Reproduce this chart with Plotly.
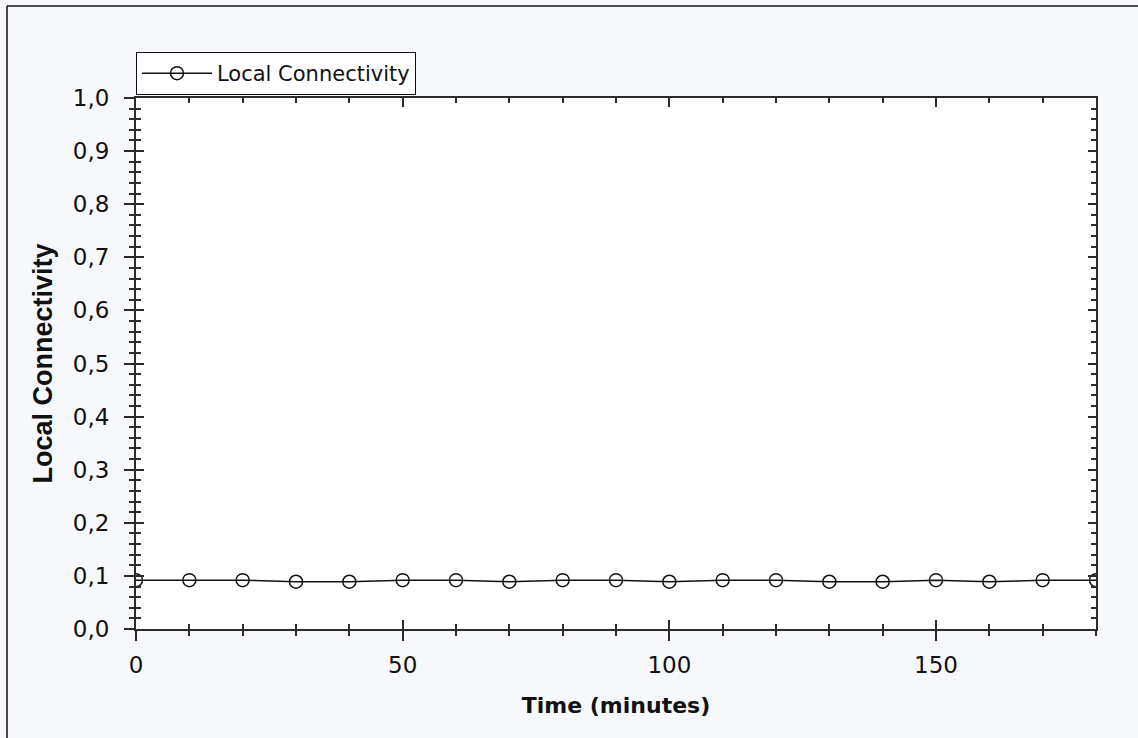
import plotly.graph_objects as go

# Local connectivity sampled every 10 minutes
time_min = [0, 10, 20, 30, 40, 50, 60, 70, 80, 90, 100, 110, 120, 130, 140, 150, 160, 170, 180]
local_conn = [0.092, 0.092, 0.092, 0.089, 0.089, 0.092, 0.092, 0.089, 0.092, 0.092,
              0.089, 0.092, 0.092, 0.089, 0.089, 0.092, 0.089, 0.092, 0.092]

x_range = [0, 180]
y_range = [0, 1.0]
x_ticks = [0, 50, 100, 150]
y_ticks = [0.0, 0.1, 0.2, 0.3, 0.4, 0.5, 0.6, 0.7, 0.8, 0.9, 1.0]

W, H = 1138, 738
L, R, T, B = 136, 42, 98, 109

AXIS_COLOR = "#2b2b2b"
TICK_FONT = dict(family="DejaVu Sans", size=23, color="#111")

fig = go.Figure()
fig.add_trace(go.Scatter(
    x=time_min, y=local_conn, mode="lines+markers", name="Local Connectivity",
    line=dict(color="#111", width=1.5),
    marker=dict(symbol="circle-open", size=13, color="#111", line=dict(width=1.5)),
    xaxis="x", yaxis="y",
))

pw, ph = W - L - R, H - T - B

fig.update_layout(
    width=W, height=H,
    margin=dict(l=L, r=R, t=T, b=B, pad=0),
    paper_bgcolor="#f7f8fc",
    plot_bgcolor="#ffffff",
    separators=", ",
    showlegend=True,
    legend=dict(
        x=0, xanchor="left", y=(H - B - 52) / ph, yanchor="top",
        bgcolor="#ffffff", bordercolor="#111", borderwidth=1,
        font=dict(family="DejaVu Sans", size=21, color="#111"),
        itemwidth=70, tracegroupgap=0,
    ),
    # Main axes: outward-pointing ticks, labels and titles
    xaxis=dict(
        range=x_range, tickvals=x_ticks, ticktext=[str(v) for v in x_ticks],
        ticks="outside", ticklen=10, tickwidth=1.5, tickcolor=AXIS_COLOR,
        minor=dict(dtick=10, tick0=0, ticks="outside", ticklen=5, tickwidth=1.5, tickcolor=AXIS_COLOR),
        showline=True, linecolor=AXIS_COLOR, linewidth=2, mirror=False,
        showgrid=False, zeroline=False,
        tickfont=TICK_FONT, ticklabelstandoff=4,
        title=dict(text="<b>Time (minutes)</b>",
                   font=dict(family="DejaVu Sans", size=22, color="#111"),
                   standoff=21),
    ),
    yaxis=dict(
        range=y_range, tickvals=y_ticks, tickformat=".1f",
        ticks="outside", ticklen=10, tickwidth=1.5, tickcolor=AXIS_COLOR,
        minor=dict(dtick=0.02, tick0=0, ticks="outside", ticklen=5, tickwidth=1.5, tickcolor=AXIS_COLOR),
        showline=True, linecolor=AXIS_COLOR, linewidth=2, mirror=False,
        showgrid=False, zeroline=False,
        tickfont=TICK_FONT, ticklabelstandoff=10,
        title=dict(text="<b>Local Connectivity</b>",
                   font=dict(family="Liberation Sans, Arial", size=27, color="#111"),
                   standoff=12),
    ),
    # Overlay axes: inward-pointing ticks on all four sides
    xaxis2=dict(
        overlaying="x", anchor="y2", range=x_range, tickvals=x_ticks,
        ticks="inside", ticklen=9, tickwidth=1.5, tickcolor=AXIS_COLOR,
        minor=dict(dtick=10, tick0=0, ticks="inside", ticklen=5, tickwidth=1.5, tickcolor=AXIS_COLOR),
        showline=True, linecolor=AXIS_COLOR, linewidth=2, mirror="ticks",
        showticklabels=False, showgrid=False, zeroline=False,
    ),
    yaxis2=dict(
        overlaying="y", anchor="x2", range=y_range, tickvals=y_ticks,
        ticks="inside", ticklen=8, tickwidth=1.5, tickcolor=AXIS_COLOR,
        minor=dict(dtick=0.02, tick0=0, ticks="inside", ticklen=5, tickwidth=1.5, tickcolor=AXIS_COLOR),
        showline=True, linecolor=AXIS_COLOR, linewidth=2, mirror="ticks",
        showticklabels=False, showgrid=False, zeroline=False,
    ),
)

# Empty trace so the overlay axes get their own subplot
fig.add_trace(go.Scatter(x=[], y=[], xaxis="x2", yaxis="y2", showlegend=False, hoverinfo="skip"))

# Outer frame around the chart (left and top edges)
fx = (7 - L) / pw
fy = (H - B - 6) / ph
fig.add_shape(type="line", xref="paper", yref="paper", x0=fx, x1=fx, y0=-1, y1=fy,
              line=dict(color="#111", width=1.5))
fig.add_shape(type="line", xref="paper", yref="paper", x0=fx, x1=2, y0=fy, y1=fy,
              line=dict(color="#111", width=1.5))

fig.write_html("out.html")
